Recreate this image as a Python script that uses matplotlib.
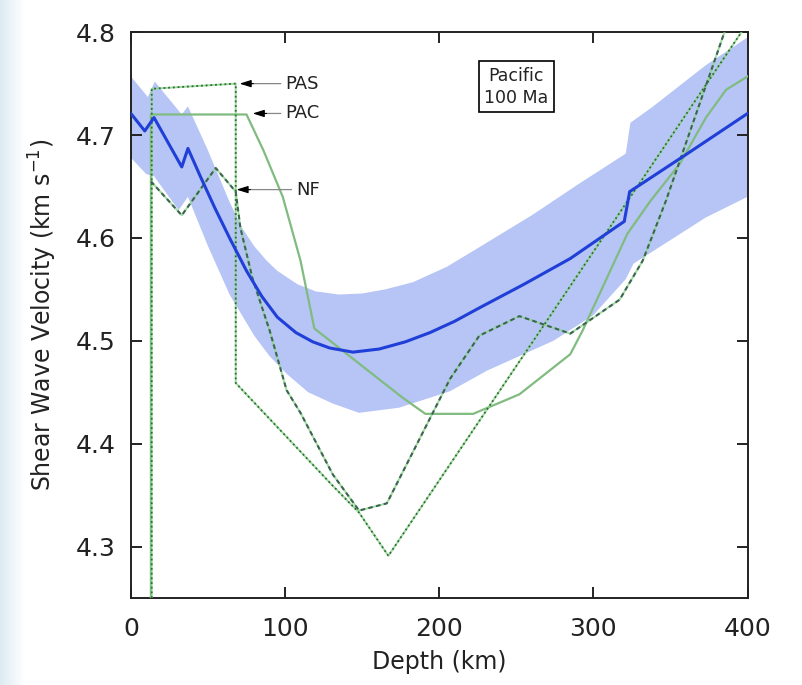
import numpy as np
import matplotlib
matplotlib.use("Agg")
import matplotlib.pyplot as plt

# ---------------- data ----------------
# Mean model (blue)
blue_depth = [0, 9, 15, 33, 37, 45, 54.5, 64, 75, 85, 95, 107, 118, 129, 144, 161, 178, 194, 210, 226, 255, 285, 317, 320, 323.5, 360, 400]
blue_vs = [4.721, 4.704, 4.717, 4.669, 4.687, 4.660, 4.629, 4.600, 4.568, 4.543, 4.523, 4.508, 4.499, 4.493, 4.489, 4.492, 4.499, 4.508, 4.519, 4.532, 4.555, 4.580, 4.613, 4.616, 4.645, 4.681, 4.721]

# Uncertainty band
band_up_depth = [0, 11, 15.5, 33, 37, 50, 64, 72, 80, 88, 95, 108, 120, 135, 150, 165, 183, 205, 226, 260, 290, 321, 324, 338, 373, 400]
band_up_vs = [4.757, 4.737, 4.752, 4.720, 4.728, 4.685, 4.635, 4.610, 4.592, 4.578, 4.568, 4.555, 4.548, 4.545, 4.546, 4.550, 4.557, 4.572, 4.591, 4.622, 4.652, 4.682, 4.712, 4.727, 4.768, 4.795]
band_lo_depth = [0, 10, 15, 31, 37, 50, 64, 80, 90, 101, 115, 131, 148, 174, 207, 231, 274, 300, 321, 326, 373, 400]
band_lo_vs = [4.678, 4.662, 4.660, 4.627, 4.640, 4.592, 4.545, 4.505, 4.485, 4.468, 4.450, 4.439, 4.430, 4.435, 4.451, 4.471, 4.500, 4.525, 4.560, 4.575, 4.620, 4.640]

# PAC (solid)
pac_depth = [13, 13, 75, 86, 98.5, 110, 119, 176, 191, 222, 252, 285, 293, 322, 337, 356, 373, 386, 400]
pac_vs = [4.25, 4.720, 4.720, 4.685, 4.640, 4.578, 4.512, 4.445, 4.429, 4.429, 4.448, 4.487, 4.510, 4.604, 4.636, 4.672, 4.717, 4.744, 4.757]

# PAS (dotted)
pas_depth = [13.5, 13.5, 68, 68, 131, 148, 167, 396]
pas_vs = [4.25, 4.745, 4.750, 4.459, 4.359, 4.333, 4.291, 4.800]

# NF (dashed)
nf_depth = [13, 33, 55, 68, 71, 79, 90, 101, 110, 131, 148, 166, 207, 226, 252, 285, 317, 332, 347, 385]
nf_vs = [4.655, 4.622, 4.668, 4.645, 4.610, 4.560, 4.510, 4.452, 4.430, 4.370, 4.335, 4.342, 4.463, 4.505, 4.524, 4.507, 4.540, 4.578, 4.636, 4.800]

xticks = [0, 100, 200, 300, 400]
yticks = [4.3, 4.4, 4.5, 4.6, 4.7, 4.8]

labels = ["PAS", "PAC", "NF"]
label_tip_x = [70.5, 79, 68.5]
label_y = [4.750, 4.721, 4.647]
label_text_x = [100, 100, 107]

# ---------------- figure ----------------
fig = plt.figure(figsize=(8.03, 6.85), dpi=100)
fig.patch.set_facecolor("white")

# light left strip background
bg = fig.add_axes([0, 0, 0.03, 1])
grad = np.linspace(0, 1, 50).reshape(1, -1)
bg.imshow(grad, aspect="auto", cmap=matplotlib.colors.LinearSegmentedColormap.from_list("g", ["#dcebf3", "#ffffff"]),
          extent=[0, 1, 0, 1])
bg.axis("off")

ax = fig.add_axes([0.163, 0.127, 0.768, 0.826])

band_x = np.concatenate([band_up_depth, band_lo_depth[::-1]])
band_y = np.concatenate([band_up_vs, band_lo_vs[::-1]])
ax.fill(band_x, band_y, color="#b6c5f5", lw=0, zorder=1)

ax.plot(blue_depth, blue_vs, color="#1f3fd8", lw=2.2, zorder=5, solid_joinstyle="round")

light = "#86d486"
ax.plot(pac_depth, pac_vs, color="#80bb80", lw=1.6, zorder=3)
ax.plot(pas_depth, pas_vs, color=light, lw=1.4, zorder=3, alpha=0.8)
ax.plot(pas_depth, pas_vs, color="#2f6a36", lw=1.3, ls=(0, (1, 1.6)), zorder=4)
ax.plot(nf_depth, nf_vs, color=light, lw=1.4, zorder=3, alpha=0.8)
ax.plot(nf_depth, nf_vs, color="#3f6456", lw=1.5, ls=(0, (2.2, 1.6)), zorder=4)

for lab, tx, y, txt_x in zip(labels, label_tip_x, label_y, label_text_x):
    ax.annotate("", xy=(tx, y), xytext=(txt_x - 1, y),
                arrowprops=dict(arrowstyle="-", color="#888888", lw=0.9), zorder=6)
    ax.annotate("", xy=(tx, y), xytext=(tx + 9, y),
                arrowprops=dict(arrowstyle="-|>,head_length=0.7,head_width=0.22", color="black", lw=0.8,
                                shrinkA=0, shrinkB=0), zorder=6)
    ax.text(txt_x, y, lab, fontsize=13, va="center", ha="left", color="#222222", zorder=7)

ax.text(250, 4.747, "Pacific\n100 Ma", fontsize=12.5, ha="center", va="center", color="#222222",
        linespacing=1.3,
        bbox=dict(boxstyle="square,pad=0.3", facecolor="white", edgecolor="black", lw=1.2), zorder=7)

ax.set_xlim(0, 400)
ax.set_ylim(4.25, 4.8)
ax.set_xticks(xticks)
ax.set_yticks(yticks)
ax.set_yticklabels([f"{v:.1f}" for v in yticks])
ax.tick_params(direction="in", length=8, width=1.4, labelsize=18, top=True, right=True,
               labeltop=False, labelright=False, colors="#222222")
ax.tick_params(axis="x", pad=14)
ax.tick_params(axis="y", pad=11)
for s in ax.spines.values():
    s.set_linewidth(1.4)
    s.set_color("#222222")

ax.set_xlabel("Depth (km)", fontsize=17, color="#222222", labelpad=6)
ax.set_ylabel("Shear Wave Velocity (km s$^{-1}$)", fontsize=17, color="#222222", labelpad=12)

fig.savefig("out.png", dpi=100)
